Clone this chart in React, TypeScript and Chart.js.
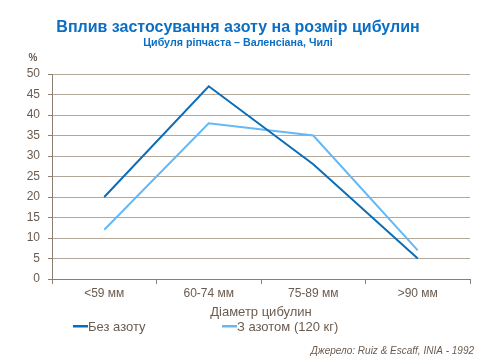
import React, { useEffect, useRef } from "react";
import { Chart, registerables } from "chart.js";

Chart.register(...registerables);

const categories = ["<59 мм", "60-74 мм", "75-89 мм", ">90 мм"];
const withoutNitrogen = [20, 47, 28, 5];
const withNitrogen = [12, 38, 35, 7];
const seriesNames = ["Без азоту", "З азотом (120 кг)"];
const titleText = "Вплив застосування азоту на розмір цибулин";
const subtitleText = "Цибуля ріпчаста – Валенсіана, Чилі";
const xTitle = "Діаметр цибулин";
const yUnit = "%";
const sourceText = "Джерело: Ruiz & Escaff, INIA - 1992";

const FONT = "'Liberation Sans', Arial, sans-serif";
const TEXT = "#6B5B4F";
const GRID = "#B3A899";
const AXIS = "#8C7E70";

const textPlugin = {
  id: "texts",
  afterDraw(chart: any) {
    const ctx = chart.ctx;
    ctx.save();
    ctx.textAlign = "center";
    ctx.textBaseline = "middle";
    ctx.fillStyle = "#0A6EC4";
    ctx.font = `bold 16px ${FONT}`;
    ctx.fillText(titleText, 238, 28);
    ctx.font = `bold 10.7px ${FONT}`;
    ctx.fillText(subtitleText, 238, 43);
    ctx.fillStyle = TEXT;
    ctx.font = `bold 10px ${FONT}`;
    ctx.fillText(yUnit, 33, 58);
    // legend
    const legendX = [73, 222];
    ctx.textAlign = "left";
    ctx.font = `13px ${FONT}`;
    chart.data.datasets.forEach((ds: any, i: number) => {
      const x = legendX[i];
      const y = 326;
      ctx.fillStyle = ds.borderColor;
      ctx.fillRect(x, y - 1, 15, 2.5);
      ctx.fillStyle = TEXT;
      ctx.fillText(ds.label, x + 15, y + 1);
    });
    ctx.textAlign = "right";
    ctx.font = `italic 10px ${FONT}`;
    ctx.fillText(sourceText, 474, 351);
    ctx.restore();
  },
};

export default function App() {
  const ref = useRef<HTMLCanvasElement | null>(null);
  useEffect(() => {
    if (!ref.current) return;
    const chart = new Chart(ref.current, {
      type: "line",
      data: {
        labels: categories,
        datasets: [
          {
            label: seriesNames[0],
            data: withoutNitrogen,
            borderColor: "#0B6DB8",
            backgroundColor: "#0B6DB8",
            borderWidth: 2,
            pointRadius: 0,
            tension: 0,
          },
          {
            label: seriesNames[1],
            data: withNitrogen,
            borderColor: "#63B8F5",
            backgroundColor: "#63B8F5",
            borderWidth: 2,
            pointRadius: 0,
            tension: 0,
          },
        ],
      },
      options: {
        animation: false,
        responsive: false,
        maintainAspectRatio: false,
        layout: { padding: { left: 0, right: 10, top: 74, bottom: 40 } },
        plugins: {
          title: { display: false },
          tooltip: { enabled: false },
          legend: { display: false },
        },
        scales: {
          x: {
            offset: true,
            grid: {
              offset: true,
              drawOnChartArea: true,
              color: (c: any) => (c.index === categories.length ? AXIS : "rgba(0,0,0,0)"),
              tickColor: AXIS,
              tickLength: 5,
            },
            border: { color: AXIS, width: 1 },
            ticks: { color: TEXT, font: { family: FONT, size: 12 }, padding: 2 },
            title: {
              display: true,
              text: xTitle,
              color: TEXT,
              font: { family: FONT, size: 13 },
              padding: { top: 2, bottom: 0 },
            },
          },
          y: {
            min: 0,
            max: 50,
            afterFit: (s: any) => {
              s.width = 52;
            },
            grid: { color: GRID, tickColor: AXIS, tickLength: 4 },
            border: { color: AXIS, width: 1 },
            ticks: {
              stepSize: 5,
              autoSkip: false,
              color: TEXT,
              padding: 8,
              font: { family: FONT, size: 12 },
            },
          },
        },
      },
      plugins: [textPlugin],
    });
    return () => chart.destroy();
  }, []);
  return (
    <div style={{ position: "fixed", left: 0, top: 0, width: 480, height: 360, background: "#fff" }}>
      <canvas ref={ref} width={480} height={360} />
    </div>
  );
}
